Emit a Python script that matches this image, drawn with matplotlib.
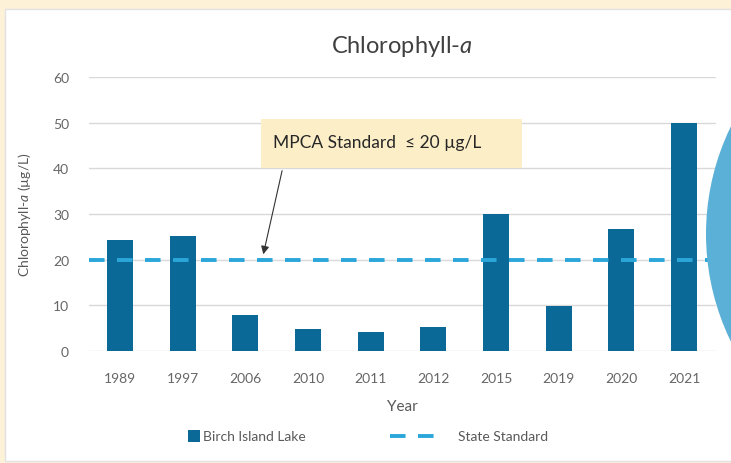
import numpy as np
import matplotlib.pyplot as plt
from matplotlib.patches import Rectangle, Ellipse
from matplotlib.lines import Line2D

years = ['1989', '1997', '2006', '2010', '2011', '2012', '2015', '2019', '2020', '2021']
chla = [24.3, 25.2, 7.8, 4.9, 4.2, 5.3, 30.0, 9.9, 26.7, 50.0]
standard = 20
yticks = [0, 10, 20, 30, 40, 50, 60]

plt.rcParams['font.family'] = ['Lato', 'DejaVu Sans']
plt.rcParams['mathtext.fontset'] = 'custom'
plt.rcParams['mathtext.it'] = 'Lato:italic'
plt.rcParams['mathtext.rm'] = 'Lato'

W, H = 731, 464
fig = plt.figure(figsize=(W/100, H/100), dpi=100)
fig.patch.set_facecolor('#fdf1d8')

# white panel behind the chart
fig.add_artist(Rectangle((5/W, 2/H), 1.0, 1 - 12/H, transform=fig.transFigure,
                         facecolor='white', edgecolor='#e2e2e2', lw=1, zorder=0))

ax = fig.add_axes([88.5/W, 1 - 352/H, 627/W, 274/H])
ax.set_facecolor('none')
gray = '#595959'
barcol = '#0a6996'
dashcol = '#2ba6d9'
dash = (0, (4, 3.2))

x = np.arange(len(years))
ax.bar(x, chla, width=0.415, color=barcol, zorder=3)
ax.axhline(standard, color=dashcol, lw=2.8, ls=dash, zorder=4)

ax.set_xlim(-0.5, 9.5)
ax.set_ylim(0, 60)
ax.set_yticks(yticks)
ax.set_xticks(x)
ax.set_xticklabels(years)
ax.grid(axis='y', color='#d9d9d9', lw=1, zorder=0)
for s in ax.spines.values():
    s.set_visible(False)
ax.tick_params(length=0, colors='#666666', labelsize=10)
ax.tick_params(axis='y', pad=14)
ax.tick_params(axis='x', pad=15)

ax.set_xlabel('Year', color=gray, fontsize=11, labelpad=11)
ax.set_ylabel('Chlorophyll-$\\it{a}$ (µg/L)', color=gray, fontsize=10, labelpad=14)
ax.set_title('Chlorophyll-$\\it{a}$', color='#404040', fontsize=17, pad=18)

# annotation box with arrow
fig.add_artist(Rectangle((260.7/W, 1 - 169/H), 261/W, 49/H, transform=fig.transFigure,
                         facecolor='#fcefc8', edgecolor='none', zorder=5))
fig.text(273/W, 1 - 143/H, 'MPCA Standard  ≤ 20 µg/L', fontsize=12.5, color='#262626',
         va='center', ha='left', zorder=6)
ax.annotate('', xy=(262.7/W, 1 - 258/H), xycoords='figure fraction',
            xytext=(282.7/W, 1 - 169/H), textcoords='figure fraction',
            arrowprops=dict(arrowstyle='-|>', color='#333333', lw=0.8, mutation_scale=12),
            zorder=6)

# legend drawn by hand (different handle sizes)
ly = 1 - 437/H
fig.add_artist(Rectangle((188/W, ly - 6/H), 12/W, 12/H, transform=fig.transFigure,
                         facecolor=barcol, edgecolor='none'))
fig.text(203/W, ly, 'Birch Island Lake', fontsize=10, color=gray, va='center')
fig.add_artist(Line2D([390/W, 442/W], [ly, ly], transform=fig.transFigure,
                      color=dashcol, lw=2.8, ls=dash, dash_capstyle='butt'))
fig.text(458/W, ly, 'State Standard', fontsize=10, color=gray, va='center')

# decorative circle on the right edge
R = 245
fig.add_artist(Ellipse(((706 + R)/W, 1 - 235/H), 2*R/W, 2*R/H, transform=fig.transFigure,
                       facecolor='#5ab0d6', edgecolor='none', zorder=10))

plt.savefig('out.png', dpi=100, facecolor=fig.get_facecolor())
